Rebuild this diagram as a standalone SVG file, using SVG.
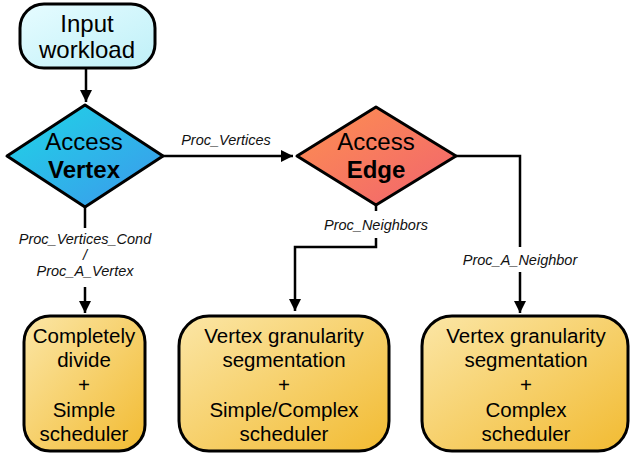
<svg xmlns="http://www.w3.org/2000/svg" width="631" height="454" viewBox="0 0 631 454">
<defs>
<linearGradient id="gIn" x1="0" y1="0" x2="1" y2="1"><stop offset="0" stop-color="#e6fcff"/><stop offset="1" stop-color="#bff0f8"/></linearGradient>
<linearGradient id="gV" x1="0" y1="0" x2="1" y2="1"><stop offset="0" stop-color="#1ed6e6"/><stop offset="1" stop-color="#3d97ec"/></linearGradient>
<linearGradient id="gE" x1="0" y1="0" x2="1" y2="1"><stop offset="0" stop-color="#fd9050"/><stop offset="1" stop-color="#f1636f"/></linearGradient>
<linearGradient id="gB" x1="0" y1="0" x2="1" y2="1"><stop offset="0" stop-color="#fbe6a6"/><stop offset="1" stop-color="#f2bb32"/></linearGradient>
<marker id="ah" viewBox="0 0 10 10" refX="10" refY="5" markerWidth="5" markerHeight="5" orient="auto" markerUnits="strokeWidth"><path d="M0,0 L10,5 L0,10 z" fill="#000"/></marker>
</defs>
<style>
.sh{stroke:#000;stroke-width:3;stroke-linejoin:round}
.t{font-family:"Liberation Sans",Arial,sans-serif;fill:#000;text-anchor:middle}
.big{font-size:24px}
.bx{font-size:20.5px}
.lb{font-family:"Liberation Sans",Arial,sans-serif;font-size:14.5px;font-style:italic;fill:#111;text-anchor:middle}
.ln{fill:none;stroke:#000;stroke-width:2.5}
</style>
<g id="connectors">
<path class="ln" d="M86,68 V102" marker-end="url(#ah)"/>
<path class="ln" d="M163,156 H293" marker-end="url(#ah)"/>
<text class="lb" x="226" y="145">Proc_Vertices</text>
<path class="ln" d="M85,207 V228"/>
<path class="ln" d="M85,287 V313" marker-end="url(#ah)"/>
<text class="lb" x="85" y="244">Proc_Vertices_Cond</text>
<text class="lb" x="85" y="260">/</text>
<text class="lb" x="85" y="276">Proc_A_Vertex</text>
<path class="ln" d="M376,205 V211"/>
<path class="ln" d="M376,238 V247 H295 V311" marker-end="url(#ah)"/>
<text class="lb" x="376" y="230">Proc_Neighbors</text>
<path class="ln" d="M456,156 H520 V247"/>
<path class="ln" d="M520,272 V313" marker-end="url(#ah)"/>
<text class="lb" x="520" y="265">Proc_A_Neighbor</text>
</g>
<g id="input">
<rect class="sh" x="20" y="4" width="135" height="64" rx="24" fill="url(#gIn)"/>
<text class="t big" x="87" y="32">Input</text>
<text class="t big" x="87" y="58">workload</text>
</g>
<g id="access-vertex">
<path class="sh" d="M85,105 L163,156 L85,207 L7,156 z" fill="url(#gV)"/>
<text class="t big" x="84" y="150">Access</text>
<text class="t big" x="84" y="178" font-weight="bold">Vertex</text>
</g>
<g id="access-edge">
<path class="sh" d="M376,107 L456,156 L376,205 L297,156 z" fill="url(#gE)"/>
<text class="t big" x="376" y="150">Access</text>
<text class="t big" x="376" y="178" font-weight="bold">Edge</text>
</g>
<g id="box-left">
<rect class="sh" x="24" y="316" width="121" height="135" rx="26" fill="url(#gB)"/>
<text class="t bx" x="84" y="343">Completely</text>
<text class="t bx" x="84" y="367">divide</text>
<text class="t bx" x="84" y="392">+</text>
<text class="t bx" x="84" y="417">Simple</text>
<text class="t bx" x="84" y="441">scheduler</text>
</g>
<g id="box-middle">
<rect class="sh" x="179" y="316" width="210" height="135" rx="30" fill="url(#gB)"/>
<text class="t bx" x="284" y="343">Vertex granularity</text>
<text class="t bx" x="284" y="367">segmentation</text>
<text class="t bx" x="284" y="392">+</text>
<text class="t bx" x="284" y="417">Simple/Complex</text>
<text class="t bx" x="284" y="441">scheduler</text>
</g>
<g id="box-right">
<rect class="sh" x="422" y="316" width="206" height="135" rx="30" fill="url(#gB)"/>
<text class="t bx" x="526" y="343">Vertex granularity</text>
<text class="t bx" x="526" y="367">segmentation</text>
<text class="t bx" x="526" y="392">+</text>
<text class="t bx" x="526" y="417">Complex</text>
<text class="t bx" x="526" y="441">scheduler</text>
</g>
</svg>
